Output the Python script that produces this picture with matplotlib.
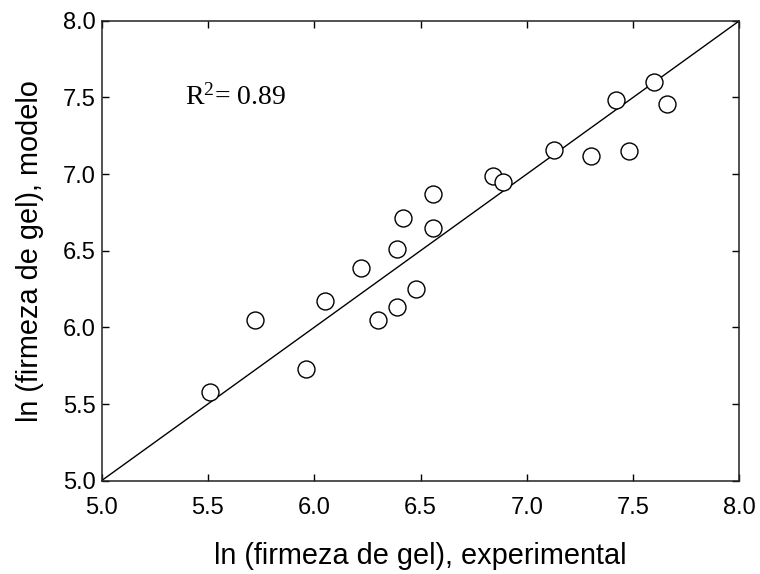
import matplotlib
matplotlib.use("Agg")
import matplotlib.pyplot as plt

# ln(gel firmness): experimental vs model
experimental = [5.51, 5.72, 5.96, 6.05, 6.22, 6.30, 6.39, 6.39, 6.42, 6.48,
                6.56, 6.56, 6.84, 6.89, 7.13, 7.30, 7.42, 7.48, 7.60, 7.66]
modelo = [5.58, 6.05, 5.73, 6.17, 6.39, 6.05, 6.13, 6.51, 6.71, 6.25,
          6.65, 6.87, 6.99, 6.95, 7.16, 7.12, 7.48, 7.15, 7.60, 7.46]
ticks = [5.0, 5.5, 6.0, 6.5, 7.0, 7.5, 8.0]
r2_text = "R$^{2}$= 0.89"

plt.rcParams['font.family'] = ['Liberation Sans', 'DejaVu Sans']
plt.rcParams['mathtext.fontset'] = 'custom'
plt.rcParams['mathtext.rm'] = 'Liberation Serif'
plt.rcParams['mathtext.it'] = 'Liberation Serif:italic'

fig = plt.figure(figsize=(7.6, 5.74), dpi=100)
ax = fig.add_axes([0.1336, 0.1626, 0.8394, 0.8013])

# 1:1 line
ax.plot([ticks[0], ticks[-1]], [ticks[0], ticks[-1]], color='black', lw=1.0)
ax.plot(experimental, modelo, linestyle='none', marker='o', markersize=12.2,
        markerfacecolor='white', markeredgecolor='black', markeredgewidth=1.0)

ax.set_xlim(ticks[0], ticks[-1])
ax.set_ylim(ticks[0], ticks[-1])
ax.set_xticks(ticks)
ax.set_yticks(ticks)
ax.set_xticklabels(["{:.1f}".format(t) for t in ticks])
ax.set_yticklabels(["{:.1f}".format(t) for t in ticks])

for s in ax.spines.values():
    s.set_linewidth(1.1)
    s.set_color('#222222')

ax.tick_params(axis='both', direction='in', top=True, right=True,
               length=4.7, width=1.0, labelsize=17)
ax.tick_params(axis='x', pad=12)
ax.tick_params(axis='y', pad=4)

ax.set_xlabel("ln (firmeza de gel), experimental", fontsize=20.8, labelpad=16)
ax.set_ylabel("ln (firmeza de gel), modelo", fontsize=20.8, labelpad=14)

ax.text(5.393, 7.45, r2_text, fontsize=20, family='Liberation Serif',
        va='baseline', ha='left')

fig.savefig("out.png", dpi=100)
